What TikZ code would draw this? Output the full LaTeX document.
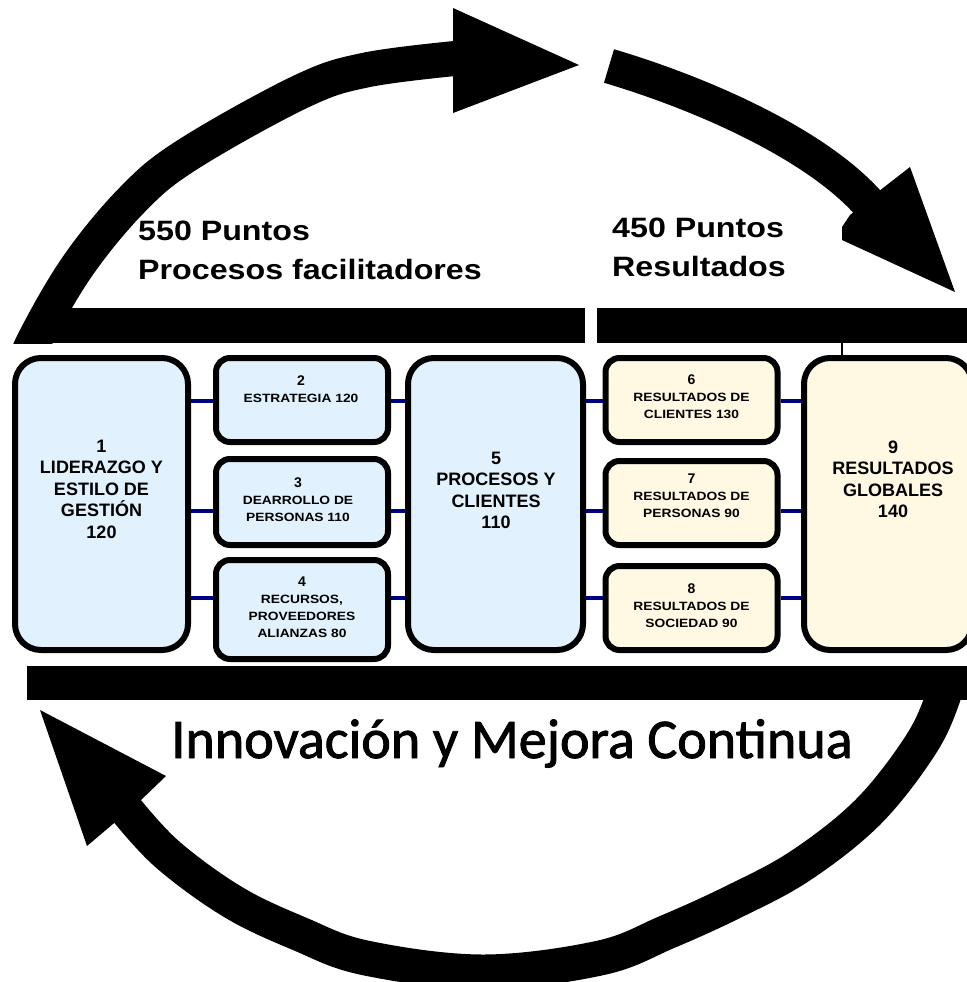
\documentclass[tikz,border=0pt]{standalone}
\usepackage{fontspec}
\setmainfont{Liberation Sans}
\newfontfamily\headfont[FakeStretch=1.15]{Liberation Sans}
\newfontfamily\smallfont[FakeStretch=1.15]{Liberation Sans}
\newfontfamily\innofont[FakeBold=1.6]{Carlito}
\definecolor{boxblue}{HTML}{E1F1FD}
\definecolor{boxcream}{HTML}{FFF8E2}
\definecolor{connblue}{HTML}{000080}
\newcommand\bignum[1]{{\normalfont\bfseries\fontsize{14}{17}\selectfont #1}}
\tikzset{
  bigbox/.style={draw=black, line width=6pt, rounded corners=26pt, inner sep=0pt, minimum height=292pt},
  smallbox/.style={draw=black, line width=6pt, rounded corners=14pt, inner sep=0pt, minimum width=172pt},
  bluefill/.style={fill=boxblue},
  creamfill/.style={fill=boxcream},
  conn/.style={draw=connblue, line width=3.5pt},
  bigtxt/.style={align=center, inner sep=0pt, font=\bfseries\fontsize{18}{21.5}\selectfont},
  smalltxt/.style={align=center, inner sep=0pt, font=\smallfont\bfseries\fontsize{12}{17}\selectfont},
  headtxt/.style={align=left, inner sep=0pt, anchor=north west, font=\headfont\bfseries\fontsize{28}{38.5}\selectfont},
  band/.style={draw=black, line width=35pt},
  headtip/.style={fill=black},
}
\begin{document}
\begin{tikzpicture}[x=1pt,y=-1pt]
\useasboundingbox (0,0) rectangle (966,982);
\fill[white] (0,0) rectangle (966,982);

% top-left arc arrow
\begin{scope}
  \clip (0,0) rectangle (966,343);
  \draw[band] plot[smooth, tension=0.6] coordinates {(20,380) (33,343) (77,267) (132,200) (187,155) (300,92) (366,70) (460,58)};
\end{scope}
\fill[headtip] (453,40) -- (453,8) -- (579,65) -- (453,113) -- (453,76) -- cycle;

% top-right arc arrow
\draw[band] (609,66) .. controls (700,93) and (815,143) .. (869,204);
\fill[headtip] (883,188) -- (910,167) -- (955,292) -- (842,240) -- (842,227) -- (850,215) -- cycle;

% bottom arc arrow
\begin{scope}
  \clip (0,666) rectangle (1000,1000);
  \draw[band] plot[smooth, tension=0.6] coordinates {(958,640) (942,700) (918,749) (867,813) (800,866) (733,902) (667,932) (600,958) (483,972) (366,958) (300,934) (233,902) (167,854) (124,807)};
\end{scope}
\fill[headtip] (140,801) -- (166,776) -- (40,710) -- (87,846) -- (113,824) -- cycle;

% bars
\fill (40,308) rectangle (585,343);
\fill (597,308) rectangle (975,343);
\fill (27,666) rectangle (975,700);

% headings
\node[headtxt] (h1) at (138,221) {550 Puntos\\Procesos facilitadores};
\node[headtxt] (h2) at (612,218) {450 Puntos\\Resultados};
\node[font=\innofont\fontsize{56}{60}\selectfont, anchor=base, inner sep=0pt] (inno) at (512,758) {Innovación y Mejora Continua};

% boxes
\node[bigbox, bluefill, minimum width=173pt] (b1) at (101.5,504) {};
\node[smallbox, bluefill, minimum height=84pt] (b2) at (302,400) {};
\node[smallbox, bluefill, minimum height=86pt] (b3) at (302,502) {};
\node[smallbox, bluefill, minimum height=99pt] (b4) at (302,609.5) {};
\node[bigbox, bluefill, minimum width=175pt] (b5) at (495.5,504) {};
\node[smallbox, creamfill, minimum height=84pt] (b6) at (691.5,400) {};
\node[smallbox, creamfill, minimum height=84pt] (b7) at (691.5,503) {};
\node[smallbox, creamfill, minimum height=84pt] (b8) at (691.5,608) {};
\node[bigbox, creamfill, minimum width=168pt] (b9) at (888,504) {};

% connectors
\coordinate (r1) at (0,401);
\coordinate (r2) at (0,511);
\coordinate (r3) at (0,598);
\coordinate (tick) at (842,343);
\draw[conn] (b1.east |- r1) -- (b2.west |- r1);
\draw[conn] (b2.east |- r1) -- (b5.west |- r1);
\draw[conn] (b5.east |- r1) -- (b6.west |- r1);
\draw[conn] (b6.east |- r1) -- (b9.west |- r1);
\draw[conn] (b1.east |- r2) -- (b3.west |- r2);
\draw[conn] (b3.east |- r2) -- (b5.west |- r2);
\draw[conn] (b5.east |- r2) -- (b7.west |- r2);
\draw[conn] (b7.east |- r2) -- (b9.west |- r2);
\draw[conn] (b1.east |- r3) -- (b4.west |- r3);
\draw[conn] (b4.east |- r3) -- (b5.west |- r3);
\draw[conn] (b5.east |- r3) -- (b8.west |- r3);
\draw[conn] (b8.east |- r3) -- (b9.west |- r3);
\draw[line width=1.3pt] (tick) -- (tick |- b9.north);

% box texts
\node[bigtxt] (t1) at (101.5,489) {1\\LIDERAZGO Y\\ESTILO DE\\GESTIÓN\\120};
\node[bigtxt] (t5) at (496,490.5) {5\\PROCESOS Y\\CLIENTES\\110};
\node[bigtxt] (t9) at (893,479.5) {9\\RESULTADOS\\GLOBALES\\140};
\node[smalltxt] (t2) at (301,389) {\bignum{2}\\ESTRATEGIA 120};
\node[smalltxt] (t3) at (298,499.5) {\bignum{3}\\DEARROLLO DE\\PERSONAS 110};
\node[smalltxt] (t4) at (302,607) {\bignum{4}\\RECURSOS,\\PROVEEDORES\\ALIANZAS 80};
\node[smalltxt] (t6) at (691.5,396.5) {\bignum{6}\\RESULTADOS DE\\CLIENTES 130};
\node[smalltxt] (t7) at (691.5,495.5) {\bignum{7}\\RESULTADOS DE\\PERSONAS 90};
\node[smalltxt] (t8) at (691.5,605.5) {\bignum{8}\\RESULTADOS DE\\SOCIEDAD 90};
\end{tikzpicture}
\end{document}
